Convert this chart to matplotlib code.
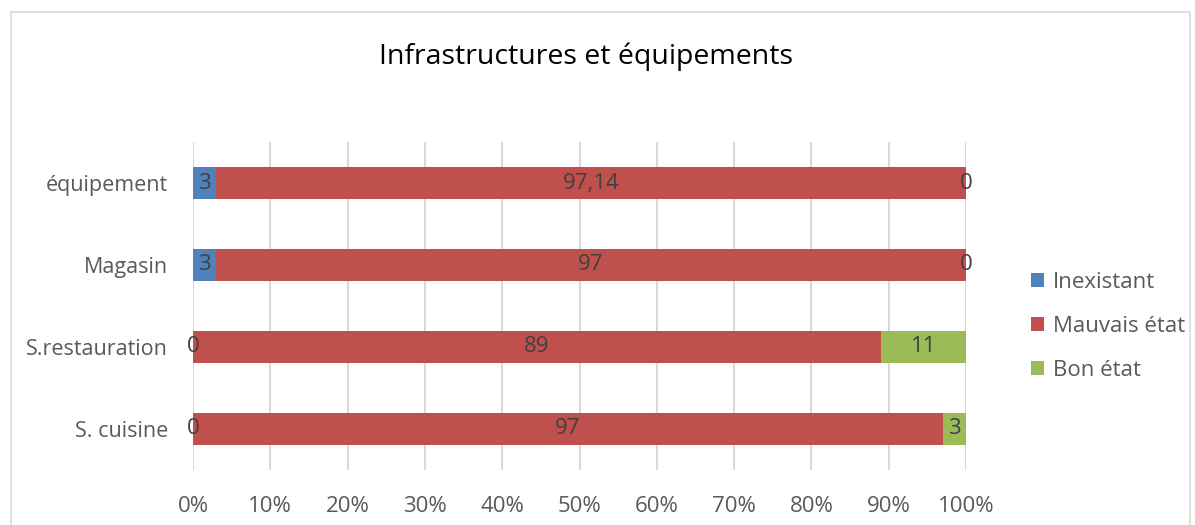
import matplotlib
matplotlib.use("Agg")
import matplotlib.pyplot as plt
import numpy as np

categories = ["S. cuisine", "S.restauration", "Magasin", "équipement"]
series_names = ["Inexistant", "Mauvais état", "Bon état"]
inexistant = [0, 0, 3, 3]
mauvais = [97, 89, 97, 97.14]
bon = [3, 11, 0, 0]
colors = ["#4F81BD", "#C0504D", "#9BBB59"]
xticks = [0, 10, 20, 30, 40, 50, 60, 70, 80, 90, 100]

plt.rcParams['font.family'] = ['Open Sans', 'DejaVu Sans']

fig = plt.figure(figsize=(11.95, 5.25), dpi=100)
# outer chart border
fig.patches.append(plt.Rectangle((11/1195, -0.01), (1190-11)/1195, (525-12)/525 + 0.01,
                                 transform=fig.transFigure, fill=False,
                                 edgecolor="#D9D9D9", linewidth=1.2))
ax = fig.add_axes([193/1195, 55/525, (966-193)/1195, (470-142)/525])

data = np.array([inexistant, mauvais, bon], dtype=float)
totals = data.sum(axis=0)
pct = data / totals * 100
y = np.arange(len(categories))
left = np.zeros(len(categories))

def fmt(v):
    return ("%g" % v).replace(".", ",")

for i, name in enumerate(series_names):
    ax.barh(y, pct[i], left=left, height=0.39, color=colors[i], label=name, zorder=3)
    for j in range(len(categories)):
        cx = left[j] + pct[i][j] / 2
        ax.text(cx, y[j], fmt(data[i][j]), ha="center", va="center",
                fontsize=16, color="#404040", zorder=4)
    left = left + pct[i]

ax.set_xlim(0, 100)
ax.set_ylim(-0.5, len(categories) - 0.5)
ax.set_xticks(xticks)
ax.set_xticklabels([f"{t}%" for t in xticks], fontsize=16, color="#595959")
ax.set_yticks(y)
ax.set_yticklabels(categories, fontsize=15.5, color="#595959")
ax.tick_params(axis="both", length=0)
ax.tick_params(axis="x", pad=19)
ax.tick_params(axis="y", pad=18)
ax.grid(axis="x", color="#D9D9D9", linewidth=1.5, zorder=0)
for s in ax.spines.values():
    s.set_visible(False)

fig.text(586/1195, 1 - 57/525, "Infrastructures et équipements", ha="center",
         va="center", fontsize=20.5, color="#000000")

leg = ax.legend(loc="center left", bbox_to_anchor=(1.058, 0.438), frameon=False,
                fontsize=16, handlelength=0.6, handleheight=0.6, handletextpad=0.4,
                labelspacing=1.05, labelcolor="#595959")

fig.savefig("out.png", dpi=100)
